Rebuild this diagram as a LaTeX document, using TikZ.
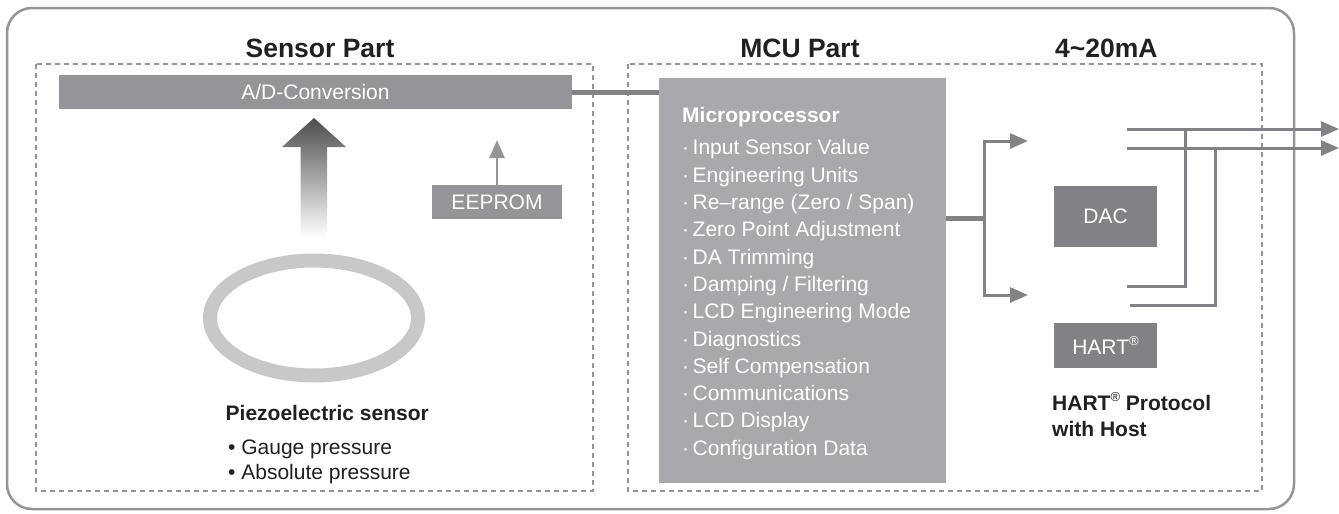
\documentclass[tikz,border=0pt]{standalone}
\usepackage{fontspec}
\setmainfont{Liberation Sans}
\usepackage{xcolor}
\usepackage{tikz}
\usetikzlibrary{positioning,arrows.meta}

\definecolor{adgray}{HTML}{939598}
\definecolor{mcugray}{HTML}{A7A9AC}
\definecolor{dacgray}{HTML}{808285}
\definecolor{ringgray}{HTML}{C7C8CA}
\definecolor{arrowdark}{HTML}{4D4D4F}
\definecolor{txtdark}{HTML}{231F20}

\newcommand{\regmark}{\raisebox{0.42em}{\fontsize{13}{13}\selectfont\mdseries ®}}

\tikzset{
  framebox/.style={draw=adgray, line width=2.5pt, rounded corners=25pt},
  dashbox/.style={draw=adgray, line width=1.5pt, dash pattern=on 5pt off 4pt},
  titletext/.style={anchor=base, inner sep=0pt, text=txtdark, font=\fontsize{26.5}{30}\selectfont\bfseries},
  blockbox/.style={fill=adgray, text=white, inner sep=0pt, font=\fontsize{21}{25}\selectfont},
  darkbox/.style={blockbox, fill=dacgray},
  bodytext/.style={inner sep=0pt, text=txtdark, font=\fontsize{21}{25}\selectfont},
  thickline/.style={draw=dacgray, line width=5pt},
  thinline/.style={draw=dacgray, line width=3pt},
  thinarrow/.style={thinline, -{Triangle[length=18pt,width=15pt]}}
}

\begin{document}
\begin{tikzpicture}[x=1pt,y=-1pt]
    \useasboundingbox (0,0) rectangle (1339,514);
    % frames
    \draw[framebox] (7,8) rectangle (1294,509);
    \draw[dashbox] (36,64) rectangle (593,491);
    \draw[dashbox] (628,64) rectangle (1262,491);
    \node[titletext] (senstitle) at (320,57.5) {Sensor Part};
    \node[titletext] (mcutitle) at (800,57.5) {MCU Part};
    \node[titletext, anchor=base west] (outtitle) at (1055,57.5) {4\textasciitilde20mA};
    % sensor part
    \node[blockbox, minimum width=513pt, minimum height=34pt] (ad) at (315.5,92) {A/D-Conversion};
    \node[blockbox, minimum width=130pt, minimum height=34pt] (eeprom) at (497,202) {EEPROM};
    \coordinate (eeptip) at (497,140);
    \draw[thinarrow, draw=adgray, line width=2.5pt] (eeprom) -- (eeptip);
    \shade[top color=arrowdark, bottom color=white]
        (300.5,237) -- (300.5,147) -- (282,147) -- (314,118) -- (346,147) -- (327,147) -- (327,237) -- cycle;
    \draw[ringgray, line width=14pt] (314,318) ellipse [x radius=104, y radius=57.5];
    \node[bodytext, anchor=base west, font=\fontsize{21}{25}\selectfont\bfseries] (piezo) at (225.5,420.5) {Piezoelectric sensor};
    \node[bodytext, anchor=north west, align=left, font=\fontsize{21}{25}\selectfont] (kinds) at (228,439.5)
        {• Gauge pressure\\• Absolute pressure};
    % mcu part
    \node[blockbox, fill=mcugray, minimum width=287pt, minimum height=405pt] (mcu) at (802.5,280.5) {};
    \node[anchor=base west, inner sep=0pt, text=white, font=\fontsize{21}{25}\selectfont\bfseries] (mptitle) at (682,122.5) {Microprocessor};
    \node[anchor=north west, inner sep=0pt, text=white, align=left, font=\fontsize{21}{27.3}\selectfont] (mpitems) at (682,139.5)
        {·\,Input Sensor Value\\·\,Engineering Units\\·\,Re–range (Zero / Span)\\·\,Zero Point Adjustment\\
         ·\,DA Trimming\\·\,Damping / Filtering\\·\,LCD Engineering Mode\\·\,Diagnostics\\
         ·\,Self Compensation\\·\,Communications\\·\,LCD Display\\·\,Configuration Data};
    \draw[thickline] (ad.east) -- (ad.east -| mcu.west);
    % 4~20mA part
    \node[darkbox, minimum width=103pt, minimum height=61pt] (dac) at (1105.5,216.5) {DAC};
    \node[darkbox, minimum width=103pt, minimum height=45pt] (hart) at (1105.5,345.5) {HART\regmark};
    \node[bodytext, anchor=north west, align=left, font=\fontsize{21}{26}\selectfont\bfseries] (host) at (1052,392.5)
        {HART\regmark{} Protocol\\with Host};
    \coordinate (split) at (984,218);
    \coordinate (toup) at (1028,141);
    \coordinate (todown) at (1028,295);
    \draw[thickline] (mcu.east |- split) -- (split);
    \draw[thinarrow] (split) |- (toup);
    \draw[thinarrow] (split) |- (todown);
    % outputs
    \coordinate (outa) at (1127,129);
    \coordinate (outaend) at (1339,129);
    \coordinate (outb) at (1127,148);
    \coordinate (outbend) at (1339,148);
    \coordinate (tapa) at (1185,129);
    \coordinate (tapb) at (1215,148);
    \coordinate (loopa) at (1127,286);
    \coordinate (loopb) at (1130,305);
    \draw[thinarrow] (outa) -- (outaend);
    \draw[thinarrow] (outb) -- (outbend);
    \draw[thinline] (loopa) -| (tapa);
    \draw[thinline] (loopb) -| (tapb);
\end{tikzpicture}
\end{document}
